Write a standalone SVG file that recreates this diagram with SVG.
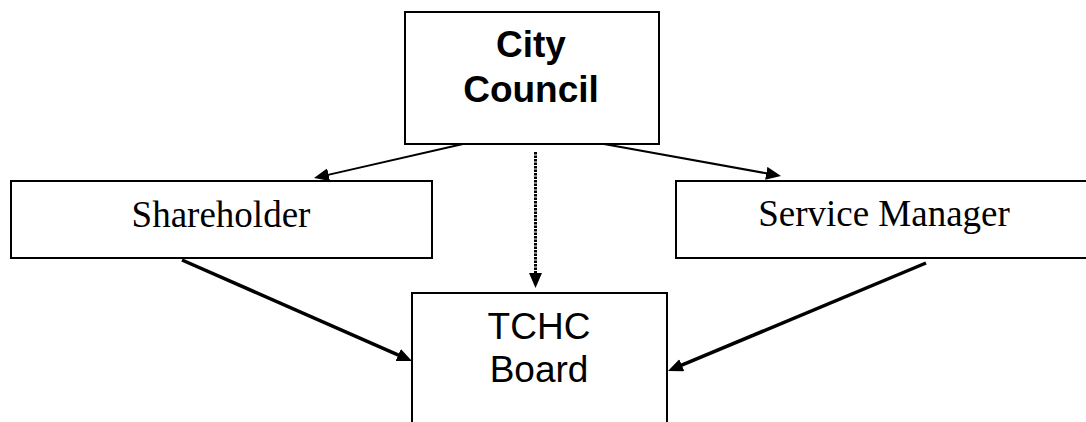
<svg xmlns="http://www.w3.org/2000/svg" width="1086" height="422" viewBox="0 0 1086 422">
  <style>
    .box { fill: #ffffff; stroke: #000000; stroke-width: 2; }
    .sans { font-family: "Liberation Sans", Arial, sans-serif; font-size: 37px; fill: #000; text-anchor: middle; }
    .serif { font-family: "Liberation Serif", "Times New Roman", serif; font-size: 37px; fill: #000; text-anchor: middle; }
    .conn { fill: none; stroke: #000; }
  </style>
  <defs>
    <marker id="ah" markerUnits="userSpaceOnUse" markerWidth="15" markerHeight="13" refX="4" refY="6.5" orient="auto">
      <path d="M0,0 L15,6.5 L0,13 z" fill="#000"/>
    </marker>
  </defs>
  <rect width="1086" height="422" fill="#fff"/>

  <g id="city-council">
    <rect class="box" x="405" y="12" width="254" height="132"/>
    <text class="sans" x="531" y="57" font-weight="bold">City</text>
    <text class="sans" x="531" y="102" font-weight="bold">Council</text>
  </g>

  <g id="shareholder">
    <rect class="box" x="11" y="181" width="421" height="77"/>
    <text class="serif" x="221" y="227">Shareholder</text>
  </g>

  <g id="service-manager">
    <rect class="box" x="676" y="181" width="420" height="77"/>
    <text class="serif" x="884" y="226">Service Manager</text>
  </g>

  <g id="tchc-board">
    <rect class="box" x="412" y="293" width="255" height="140"/>
    <text class="sans" x="539" y="339">TCHC</text>
    <text class="sans" x="539" y="382">Board</text>
  </g>

  <g id="connectors">
    <line class="conn" stroke-width="2" x1="463" y1="144" x2="324.7" y2="175.6" marker-end="url(#ah)"/>
    <line class="conn" stroke-width="2" x1="604" y1="144" x2="770.2" y2="174.0" marker-end="url(#ah)"/>
    <line class="conn" stroke-width="3" stroke-dasharray="2.5 1" x1="535.5" y1="152" x2="535.5" y2="277" marker-end="url(#ah)"/>
    <line class="conn" stroke-width="3.5" x1="182" y1="260" x2="401.9" y2="356.6" marker-end="url(#ah)"/>
    <line class="conn" stroke-width="3.5" x1="926" y1="263" x2="678.1" y2="366.7" marker-end="url(#ah)"/>
  </g>
</svg>
